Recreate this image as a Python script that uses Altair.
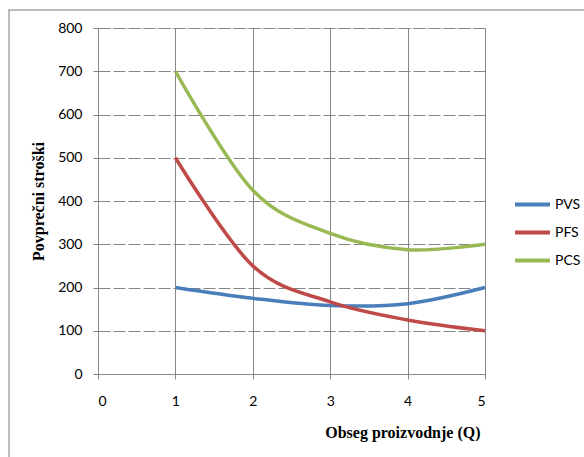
import altair as alt
import pandas as pd

# Average costs (povprečni stroški) by production volume Q
q = [1, 2, 3, 4, 5]
pvs = [200, 175, 158.3, 162.5, 200]
pfs = [500, 250, 166.7, 125, 100]
pcs = [700, 425, 325, 287.5, 300]

series = ["PVS", "PFS", "PCS"]
colors = ["#4a7ebb", "#be4b48", "#98b954"]
x_ticks = [0, 1, 2, 3, 4, 5]
y_ticks = [0, 100, 200, 300, 400, 500, 600, 700, 800]

rows = []
for name, vals in zip(series, [pvs, pfs, pcs]):
    for qi, v in zip(q, vals):
        rows.append({"Q": qi, "cost": v, "series": name})
df = pd.DataFrame(rows)

grey = "#868686"
label_font = "Lato"
title_font = "Liberation Serif"

# Outer chart-area frame
frame = alt.Chart(pd.DataFrame({"k": [0]})).mark_rect(
    fillOpacity=0, stroke="#a6a6a6", strokeWidth=1.5
).encode(
    x=alt.value(-89), x2=alt.value(620), y=alt.value(-18), y2=alt.value(480)
)

lines = alt.Chart(df).mark_line(interpolate="cardinal", strokeWidth=3.5).encode(
    x=alt.X(
        "Q:Q",
        scale=alt.Scale(domain=[0, 5], nice=False, zero=True),
        axis=alt.Axis(
            values=x_ticks,
            format="d",
            title="Obseg proizvodnje (Q)",
            grid=True,
            gridColor=grey,
            gridWidth=1,
            domainColor=grey,
            tickColor=grey,
            tickSize=5,
            labelPadding=15,
            labelFont=label_font,
            labelFontSize=14,
            labelColor="#000000",
            titleFont=title_font,
            titleFontSize=16,
            titleFontWeight="bold",
            titleColor="#000000",
            titleAlign="right",
            titleBaseline="middle",
            titleX=382,
            titleY=58,
        ),
    ),
    y=alt.Y(
        "cost:Q",
        scale=alt.Scale(domain=[0, 800], nice=False),
        axis=alt.Axis(
            values=y_ticks,
            title="Povprečni stroški",
            grid=True,
            gridColor=grey,
            gridWidth=1,
            gridDash=[12, 3],
            domainColor=grey,
            tickColor=grey,
            tickSize=5,
            labelPadding=11,
            labelFont=label_font,
            labelFontSize=14,
            labelColor="#000000",
            titleFont=title_font,
            titleFontSize=16,
            titleFontWeight="bold",
            titleColor="#000000",
            titleAngle=270,
            titleAlign="center",
            titleBaseline="middle",
            titleX=-60,
            titleY=173,
        ),
    ),
    color=alt.Color(
        "series:N",
        sort=series,
        scale=alt.Scale(domain=series, range=colors),
        legend=alt.Legend(
            title=None,
            orient="none",
            legendX=415,
            legendY=157,
            padding=0,
            symbolType="stroke",
            symbolSize=1225,
            symbolStrokeWidth=4,
            labelFont=label_font,
            labelFontSize=14,
            labelColor="#000000",
            labelOffset=3,
            rowPadding=-5,
        ),
    ),
)

chart = alt.layer(frame, lines).properties(
    width=387,
    height=346,
    autosize=alt.AutoSizeParams(type="none"),
    padding={"left": 98, "top": 28, "right": 99, "bottom": 83},
).configure_view(stroke=None).configure(background="#ffffff")

chart.save("out.html", embed_options={"renderer": "svg", "actions": False})
